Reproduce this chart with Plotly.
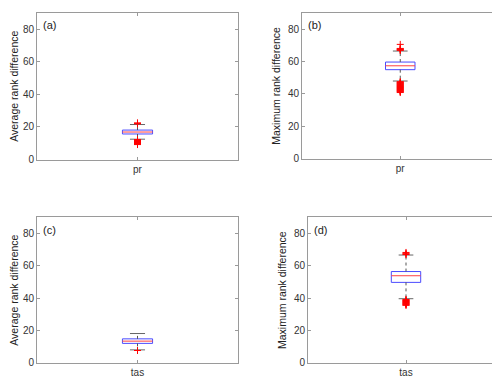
# Rank difference boxplots (pr / tas), 2x2 panels

import plotly.graph_objects as go
from plotly.subplots import make_subplots

PANELS = ["(a)", "(b)", "(c)", "(d)"]
CATEGORIES = ["pr", "pr", "tas", "tas"]
Y_TITLES = ["Average rank difference", "Maximum rank difference",
            "Average rank difference", "Maximum rank difference"]

Q1 = [15.7, 55.0, 12.1, 49.8]
MEDIAN = [16.9, 57.4, 13.5, 53.9]
Q3 = [18.1, 59.7, 14.9, 56.5]
LOWER_WHISKER = [12.5, 48.0, 8.1, 39.7]
UPPER_WHISKER = [21.5, 66.5, 18.2, 66.7]

OUTLIERS_A = [21.9, 22.2, 22.5,
              12.3, 12.1, 11.9, 11.7, 11.5, 11.3, 11.1, 10.9, 10.7, 10.5,
              10.3, 10.1, 9.9, 9.7, 9.5, 9.2]
OUTLIERS_B = [66.9, 67.2, 67.5, 67.8, 68.1, 70.6,
              47.6, 47.3, 47.0, 46.7, 46.4, 46.1, 45.8, 45.5, 45.2, 44.9,
              44.6, 44.3, 44.0, 43.7, 43.4, 43.1, 42.8, 42.5, 42.2, 41.9,
              41.6, 41.3, 40.9]
OUTLIERS_C = [7.7]
OUTLIERS_D = [67.0, 67.4, 67.8, 68.3,
              39.2, 38.9, 38.6, 38.3, 38.0, 37.7, 37.4, 37.1, 36.8, 36.5,
              36.2, 35.9, 35.6]
OUTLIERS = [OUTLIERS_A, OUTLIERS_B, OUTLIERS_C, OUTLIERS_D]

Y_TICKS = [0, 20, 40, 60, 80]

BOX_HALF = 0.075
CAP_HALF = 0.0375
AXIS_COLOR = "#9a9a9a"
TEXT_COLOR = "#333333"
FONT = "Liberation Sans, Arial, sans-serif"

fig = make_subplots(rows=2, cols=2)

domains_x = [[0.058, 0.46], [0.588, 0.981], [0.058, 0.46], [0.600, 0.992]]
domains_y = [[0.5915, 0.9867], [0.5934, 0.9867], [0.0432, 0.4358], [0.0432, 0.4358]]

for i in range(4):
    r, c = i // 2 + 1, i % 2 + 1
    x0 = 1
    # box outline
    fig.add_trace(go.Scatter(
        x=[x0 - BOX_HALF, x0 + BOX_HALF, x0 + BOX_HALF, x0 - BOX_HALF, x0 - BOX_HALF],
        y=[Q1[i], Q1[i], Q3[i], Q3[i], Q1[i]],
        mode="lines", line=dict(color="#4a4aff", width=1), showlegend=False,
        hoverinfo="skip"), row=r, col=c)
    # whiskers (dashed)
    fig.add_trace(go.Scatter(
        x=[x0, x0, None, x0, x0],
        y=[Q3[i], UPPER_WHISKER[i], None, Q1[i], LOWER_WHISKER[i]],
        mode="lines", line=dict(color="#555555", width=1, dash="dot"),
        showlegend=False, hoverinfo="skip"), row=r, col=c)
    # caps
    fig.add_trace(go.Scatter(
        x=[x0 - CAP_HALF, x0 + CAP_HALF, None, x0 - CAP_HALF, x0 + CAP_HALF],
        y=[UPPER_WHISKER[i], UPPER_WHISKER[i], None, LOWER_WHISKER[i], LOWER_WHISKER[i]],
        mode="lines", line=dict(color="#666666", width=1),
        showlegend=False, hoverinfo="skip"), row=r, col=c)
    # median
    fig.add_trace(go.Scatter(
        x=[x0 - BOX_HALF, x0 + BOX_HALF], y=[MEDIAN[i], MEDIAN[i]],
        mode="lines", line=dict(color="#ff4040", width=1),
        showlegend=False, hoverinfo="skip"), row=r, col=c)
    # outliers
    fig.add_trace(go.Scatter(
        x=[x0] * len(OUTLIERS[i]), y=OUTLIERS[i], mode="markers",
        marker=dict(symbol="cross-thin", size=5, line=dict(color="#ff0000", width=1)),
        showlegend=False), row=r, col=c)

    fig.update_xaxes(
        domain=domains_x[i], range=[0.5, 1.5], tickvals=[1], ticktext=[CATEGORIES[i]],
        ticks="inside", ticklen=3, tickcolor=AXIS_COLOR, mirror="ticks",
        showline=True, linecolor=AXIS_COLOR, linewidth=1, showgrid=False,
        zeroline=False, tickfont=dict(size=10, color=TEXT_COLOR, family=FONT),
        row=r, col=c)
    fig.update_yaxes(
        domain=domains_y[i], range=[0, 90], tickvals=Y_TICKS,
        ticks="inside", ticklen=3, tickcolor=AXIS_COLOR, mirror="ticks",
        showline=True, linecolor=AXIS_COLOR, linewidth=1, showgrid=False,
        zeroline=False, tickfont=dict(size=10, color=TEXT_COLOR, family=FONT),
        title=dict(text=Y_TITLES[i], font=dict(size=10.5, color="#222222", family=FONT),
                   standoff=5),
        row=r, col=c)

    xref = "x" if i == 0 else f"x{i + 1}"
    yref = "y" if i == 0 else f"y{i + 1}"
    fig.add_annotation(
        x=0.02, y=0.97, xref=f"{xref} domain", yref=f"{yref} domain",
        text=PANELS[i], showarrow=False, xanchor="left", yanchor="top",
        font=dict(size=11, color="#222222", family=FONT))

fig.update_layout(
    width=500, height=377,
    margin=dict(l=0, r=0, t=0, b=0),
    paper_bgcolor="white", plot_bgcolor="white",
    showlegend=False,
)

fig.write_html("out.html")
